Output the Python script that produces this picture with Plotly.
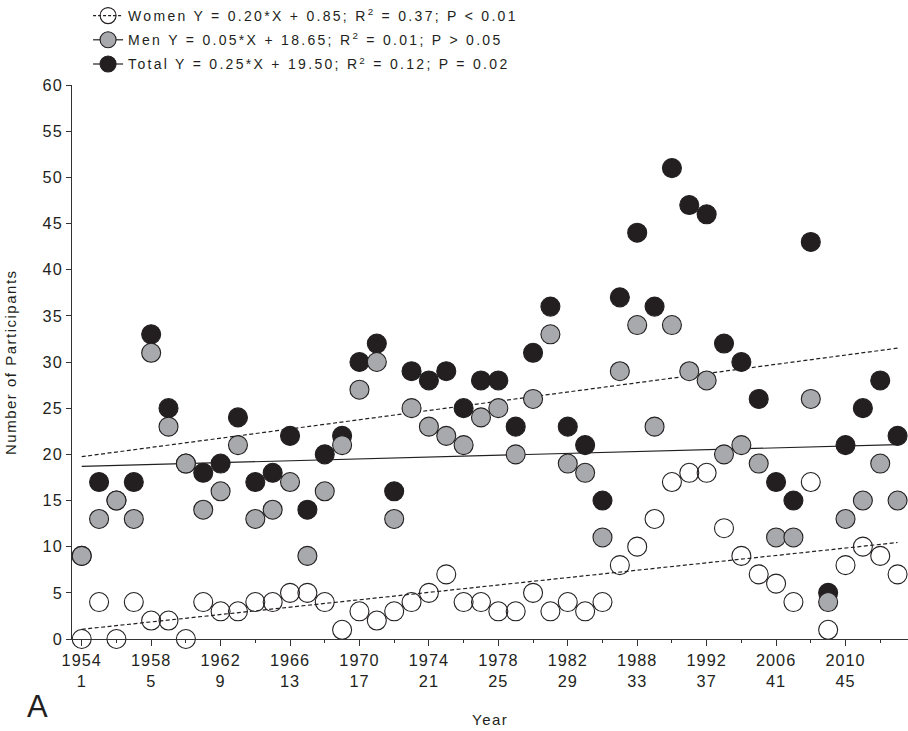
import plotly.graph_objects as go

# Race editions (x) and participants per edition
editions = list(range(1, 49))
women = [0, 4, 0, 4, 2, 2, 0, 4, 3, 3, 4, 4, 5, 5, 4, 1, 3, 2, 3, 4, 5, 7, 4, 4,
         3, 3, 5, 3, 4, 3, 4, 8, 10, 13, 17, 18, 18, 12, 9, 7, 6, 4, 17, 1, 8, 10, 9, 7]
men = [9, 13, 15, 13, 31, 23, 19, 14, 16, 21, 13, 14, 17, 9, 16, 21, 27, 30, 13, 25, 23, 22, 21, 24,
       25, 20, 26, 33, 19, 18, 11, 29, 34, 23, 34, 29, 28, 20, 21, 19, 11, 11, 26, 4, 13, 15, 19, 15]
total = [9, 17, 15, 17, 33, 25, 19, 18, 19, 24, 17, 18, 22, 14, 20, 22, 30, 32, 16, 29, 28, 29, 25, 28,
         28, 23, 31, 36, 23, 21, 15, 37, 44, 36, 51, 47, 46, 32, 30, 26, 17, 15, 43, 5, 21, 25, 28, 22]

# Axis labelling
tick_editions = [1, 5, 9, 13, 17, 21, 25, 29, 33, 37, 41, 45]
tick_years = [1954, 1958, 1962, 1966, 1970, 1974, 1978, 1982, 1988, 1992, 2006, 2010]
minor_editions = [3, 7, 11, 15, 19, 23, 27, 31, 35, 39, 43, 47]
y_ticks = [0, 5, 10, 15, 20, 25, 30, 35, 40, 45, 50, 55, 60]

# Linear fits: Y = slope*X + intercept
series_names = ["Women", "Men", "Total"]
slopes = [0.20, 0.05, 0.25]
intercepts = [0.85, 18.65, 19.50]
r_squared = ["0.37", "0.01", "0.12"]
p_text = ["P &lt; 0.01", "P &gt; 0.05", "P = 0.02"]

INK = "#231f20"
GRAY = "#a7a9ac"
AXIS = "#333333"
FONT = "Liberation Sans, Arial, Helvetica, sans-serif"

# Figure / plot-area geometry in pixels
W, H = 908, 731
M_L, M_R, M_T, M_B = 72, 0, 85, 92
PLOT_W = W - M_L - M_R
PLOT_H = H - M_T - M_B


def paper_x(px):
    return (px - M_L) / PLOT_W


def paper_y(py):
    return (H - M_B - py) / PLOT_H


def tracked(text, spacing):
    """Wrap text in a span with extra letter spacing."""
    return f'<span style="letter-spacing:{spacing}px">{text}</span>'


fit_dash = ["4px,2.5px", "solid", "4px,2.5px"]
legend_dash = ["3px,2px", "solid", "solid"]
marker_style = [
    dict(symbol="circle-open", color=INK, size=19, line=dict(width=1.1, color=INK)),
    dict(symbol="circle", color=GRAY, size=19, line=dict(width=1.1, color=INK)),
    dict(symbol="circle", color=INK, size=19, line=dict(width=1.1, color=INK)),
]
values = [women, men, total]

fig = go.Figure()

# Regression lines, drawn beneath the points
x_fit = [editions[0], editions[-1]]
for i in range(3):
    fig.add_trace(go.Scatter(
        x=x_fit, y=[slopes[i] * x + intercepts[i] for x in x_fit],
        mode="lines", line=dict(color=INK, width=1.2, dash=fit_dash[i]),
        showlegend=False, hoverinfo="skip",
    ))

# Points: total first, then men, then women on top
for i in [2, 1, 0]:
    fig.add_trace(go.Scatter(
        x=editions, y=values[i], mode="markers", marker=marker_style[i],
        cliponaxis=False, showlegend=False, name=series_names[i],
    ))

# Legend entries with the fitted equations
for i in range(3):
    label = tracked(f"{series_names[i]} Y = {slopes[i]:.2f}*X + {intercepts[i]:.2f}; "
                    f"R<sup>2</sup> = {r_squared[i]}; {p_text[i]}", 2.3)
    fig.add_trace(go.Scatter(
        x=[None], y=[None], mode="lines+markers", name=label,
        marker=marker_style[i], line=dict(color=INK, width=1.2, dash=legend_dash[i]),
        legendgroup=series_names[i], legendrank=i + 1,
    ))

x_tick_text = [tracked(f"{y}<br>{e}", 1.0) for y, e in zip(tick_years, tick_editions)]
y_tick_text = [tracked(str(v), 1.0) for v in y_ticks]

fig.update_layout(
    width=W, height=H,
    margin=dict(l=M_L, r=M_R, t=M_T, b=M_B, autoexpand=False),
    paper_bgcolor="white", plot_bgcolor="white",
    font=dict(family=FONT, color=INK, size=15),
    legend=dict(
        xref="container", yref="container", x=0.097, y=1.006,
        xanchor="left", yanchor="top", bgcolor="rgba(0,0,0,0)",
        font=dict(size=14, color=INK), traceorder="grouped", tracegroupgap=3,
    ),
    xaxis=dict(
        range=[0.44, 48.6], showgrid=False, zeroline=False,
        showline=True, linecolor=AXIS, linewidth=1,
        tickmode="array", tickvals=tick_editions, ticktext=x_tick_text,
        ticks="outside", ticklen=6, tickwidth=1.3, tickcolor=AXIS,
        tickfont=dict(size=16.3, color=INK), tickangle=0,
        minor=dict(tickmode="array", tickvals=minor_editions, ticks="outside",
                   ticklen=3, tickwidth=1, tickcolor=AXIS),
    ),
    yaxis=dict(
        range=[0, 60], showgrid=False, zeroline=False,
        showline=True, linecolor=AXIS, linewidth=1,
        tickmode="array", tickvals=y_ticks, ticktext=y_tick_text,
        ticks="outside", ticklen=5, tickwidth=1, tickcolor=AXIS,
        tickfont=dict(size=16.3, color=INK),
    ),
    annotations=[
        dict(text="A", xref="paper", yref="paper", x=paper_x(37), y=paper_y(706),
             xanchor="center", yanchor="middle", showarrow=False,
             font=dict(size=31, color=INK)),
        dict(text=tracked("Year", 1.5), xref="paper", yref="paper", x=0.5, y=paper_y(719),
             xanchor="center", yanchor="middle", showarrow=False,
             font=dict(size=15, color=INK)),
        dict(text=tracked("Number of Participants", 1.5), xref="paper", yref="paper",
             x=paper_x(10), y=0.5, xanchor="center", yanchor="middle", textangle=-90,
             showarrow=False, font=dict(size=15, color=INK)),
    ],
)

fig.write_html("out.html")
